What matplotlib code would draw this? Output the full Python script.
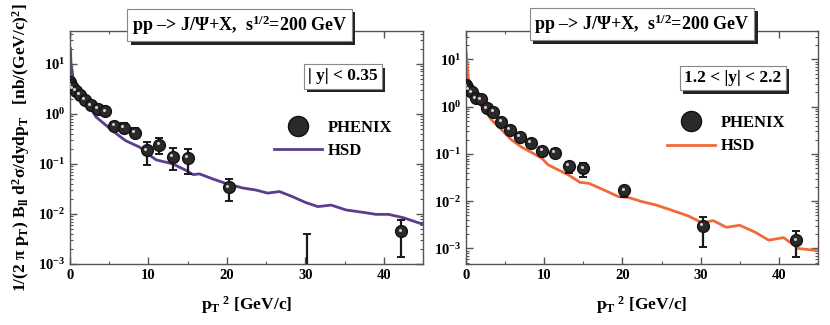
import matplotlib
matplotlib.use("Agg")
import matplotlib.pyplot as plt
import matplotlib.transforms as mtransforms
import matplotlib.patheffects as pe
from matplotlib.ticker import LogLocator, MultipleLocator, NullFormatter
import numpy as np

plt.rcParams['font.family'] = ['Liberation Serif', 'DejaVu Serif']
plt.rcParams['font.weight'] = 'bold'
plt.rcParams['mathtext.fontset'] = 'custom'
plt.rcParams['mathtext.rm'] = 'Liberation Serif:bold'
plt.rcParams['mathtext.it'] = 'Liberation Serif:bold'
plt.rcParams['mathtext.bf'] = 'Liberation Serif:bold'

# PHENIX data, |y| < 0.35
pt2_mid = [0.016, 0.14, 0.39, 0.77, 1.27, 1.89, 2.64, 3.52, 4.52, 5.64, 6.89, 8.27,
           9.77, 11.39, 13.14, 15.02, 20.25, 30.25, 42.25]
mid_y = [4.3, 3.7, 3.2, 2.85, 2.4, 1.9, 1.47, 1.26, 1.11, 0.58, 0.52, 0.42,
         0.185, 0.24, 0.14, 0.132, 0.034, 0.0005, 0.0045]
mid_hi = [4.6, 4.0, 3.45, 3.1, 2.6, 2.05, 1.6, 1.38, 1.25, 0.7, 0.64, 0.52,
          0.27, 0.33, 0.206, 0.2, 0.05, 0.004, 0.0074]
mid_lo = [4.0, 3.4, 2.95, 2.6, 2.2, 1.75, 1.35, 1.14, 0.98, 0.48, 0.43, 0.34,
          0.097, 0.16, 0.074, 0.063, 0.018, 0.0001, 0.0014]

# PHENIX data, 1.2 < |y| < 2.2
pt2_fwd = [0.016, 0.14, 0.39, 0.77, 1.27, 1.89, 2.64, 3.52, 4.52, 5.64, 6.89, 8.27,
           9.77, 11.39, 13.14, 15.02, 20.25, 30.25, 42.25]
fwd_y = [2.9, 2.6, 2.25, 2.0, 1.5, 1.43, 0.92, 0.77, 0.48, 0.32, 0.23, 0.17,
         0.118, 0.107, 0.056, 0.05, 0.017, 0.003, 0.0015]
fwd_hi = [3.1, 2.8, 2.4, 2.15, 1.62, 1.55, 1.0, 0.84, 0.53, 0.36, 0.26, 0.195,
          0.138, 0.125, 0.069, 0.064, 0.0204, 0.0047, 0.0024]
fwd_lo = [2.7, 2.4, 2.1, 1.85, 1.38, 1.31, 0.84, 0.7, 0.43, 0.28, 0.2, 0.145,
          0.1, 0.09, 0.039, 0.033, 0.012, 0.0011, 0.00065]

# HSD curves
hsd_mid_x = [0.05, 0.15, 0.5, 1.0, 2.0, 3.3, 5.4, 7.1, 8.9, 10.0, 11.0, 13.1, 14.8, 15.7,
             16.5, 18.2, 20.0, 22.0, 23.7, 25.2, 26.7, 28.4, 30.0, 31.6, 33.3, 35.2,
             37.8, 39.0, 40.6, 42.5, 45.0]
hsd_mid_y = [20.0, 9.0, 4.2, 3.0, 1.85, 0.87, 0.46, 0.29, 0.215, 0.154, 0.12, 0.1, 0.074,
             0.061, 0.063, 0.05, 0.04, 0.033, 0.03, 0.026, 0.028, 0.022, 0.017, 0.014,
             0.015, 0.012, 0.0105, 0.0098, 0.0098, 0.0084, 0.0062]
hsd_fwd_x = [0.02, 0.3, 0.9, 2.0, 3.3, 4.6, 5.8, 7.1, 8.4, 9.7, 10.5, 11.8, 13.1, 14.6,
             15.7, 17.4, 19.5, 20.8, 22.5, 24.2, 25.9, 28.4, 30.2, 31.6, 33.3, 35.0,
             37.0, 38.7, 40.6, 42.5, 45.0]
hsd_fwd_y = [14.5, 4.0, 2.1, 1.0, 0.52, 0.32, 0.2, 0.14, 0.107, 0.081, 0.059, 0.046,
             0.036, 0.025, 0.024, 0.018, 0.0125, 0.012, 0.0098, 0.0084, 0.0068, 0.0049,
             0.0035, 0.0039, 0.0028, 0.0031, 0.0022, 0.0015, 0.0017, 0.001, 0.0009]

panels = [
    dict(x=pt2_mid, y=mid_y, hi=mid_hi, lo=mid_lo, hx=hsd_mid_x, hy=hsd_mid_y,
         color='#5b3d8e', ylim=(1e-3, 45), label='| y| < 0.35', rect=[0.0843, 0.1877, 0.4253, 0.717],
         tbox=(0.48, 1.026), rbox=(0.773, 0.805), leg=(0.578, 0.62)),
    dict(x=pt2_fwd, y=fwd_y, hi=fwd_hi, lo=fwd_lo, hx=hsd_fwd_x, hy=hsd_fwd_y,
         color='#f26a3a', ylim=(4.7e-4, 40), label='1.2 < |y| < 2.2', rect=[0.5614, 0.1877, 0.4241, 0.717],
         tbox=(0.50, 1.03), rbox=(0.758, 0.798), leg=(0.571, 0.64)),
]

fig = plt.figure(figsize=(8.3, 3.25), dpi=100)


def shadow_box(ax, x, y, text, size):
    t = ax.text(x, y, text, transform=ax.transAxes, ha='center', va='center', fontsize=size,
                color='black', clip_on=False, zorder=6,
                bbox=dict(boxstyle='square,pad=0.25', fc='white', ec='#888888', lw=0.8))
    t.get_bbox_patch().set_path_effects([
        pe.SimplePatchShadow(offset=(2.5, -2.5), shadow_rgbFace='#222222', alpha=1),
        pe.Normal()])
    return t


for i, p in enumerate(panels):
    ax = fig.add_axes(p['rect'])
    y = np.array(p['y'])
    yerr = [y - np.array(p['lo']), np.array(p['hi']) - y]
    ax.plot(p['hx'], p['hy'], color=p['color'], lw=2, zorder=2, label='HSD')
    ax.errorbar(p['x'], y, yerr=yerr, fmt='none', ecolor='#1a1a1a', elinewidth=1.6,
                capsize=3, capthick=1.4, zorder=3)
    pts = ax.plot(p['x'], y, 'o', color='#2a2a2a', mec='#111111', ms=8.5, zorder=4,
                  label='PHENIX')[0]
    ax.plot(p['x'], y, 'o', color='#cfcfcf', ms=2.2, mew=0, zorder=5,
            transform=ax.transData + mtransforms.ScaledTranslation(-1.2 / 72, 1.2 / 72, fig.dpi_scale_trans))

    ax.set_yscale('log')
    ax.set_xlim(0, 45)
    ax.set_ylim(*p['ylim'])
    ax.xaxis.set_major_locator(MultipleLocator(10))
    ax.xaxis.set_minor_locator(MultipleLocator(5))
    ax.yaxis.set_major_locator(LogLocator(base=10, numticks=10))
    ax.yaxis.set_minor_locator(LogLocator(base=10, subs=np.arange(2, 10), numticks=20))
    ax.yaxis.set_minor_formatter(NullFormatter())
    ax.tick_params(which='both', direction='in', top=True, right=True, labelsize=10.5,
                   color='#555555')
    ax.tick_params(which='major', length=5, width=1)
    ax.tick_params(which='minor', length=2.5, width=0.8)
    for s in ax.spines.values():
        s.set_color('#555555')
        s.set_linewidth(1)
    for lab in ax.get_xticklabels() + ax.get_yticklabels():
        lab.set_fontweight('bold')

    ax.set_xlabel(r'p$_\mathrm{T}$$^{\ 2}$ [GeV/c]', fontsize=12.5, fontweight='bold', labelpad=9)
    if i == 0:
        ax.set_ylabel(r'1/(2 π p$_\mathrm{T}$) B$_\mathrm{ll}$ d$^2$σ/dydp$_\mathrm{T}$   [nb/(GeV/c)$^2$]',
                      fontsize=12.5, fontweight='bold', labelpad=4)

    shadow_box(ax, p['tbox'][0], p['tbox'][1], r'pp –> J/Ψ+X,  s$^{1/2}$=200 GeV', 13)
    shadow_box(ax, p['rbox'][0], p['rbox'][1], p['label'], 12.5)

    ax.legend(handles=[pts, ax.lines[0]], labels=['PHENIX', 'HSD'], loc='upper left',
              bbox_to_anchor=p['leg'], frameon=False, handlelength=2.9,
              handletextpad=0.3, borderpad=0, borderaxespad=0, labelspacing=0.45,
              markerscale=1.7, prop=dict(weight='bold', size=12))

fig.savefig('out.png', dpi=100)
